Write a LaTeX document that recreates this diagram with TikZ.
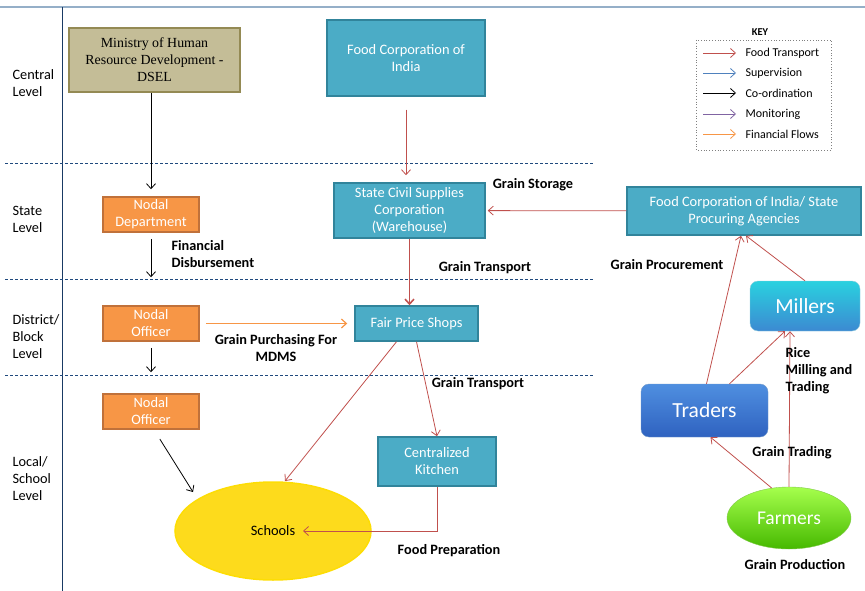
\documentclass[tikz,border=0pt]{standalone}
\usepackage{fontspec}
\setmainfont{Carlito}
\newfontfamily\minfont{Liberation Serif}
\usetikzlibrary{arrows.meta,shapes.geometric,positioning}
\definecolor{foodred}{HTML}{C0504D}
\definecolor{supblue}{HTML}{4F81BD}
\definecolor{monpurple}{HTML}{8064A2}
\definecolor{finorange}{HTML}{F79646}
\definecolor{tealfill}{HTML}{4BACC6}
\definecolor{tealline}{HTML}{31849B}
\definecolor{tanfill}{HTML}{C4BD97}
\definecolor{tanline}{HTML}{948A54}
\definecolor{orangeline}{HTML}{C0713A}
\definecolor{levelline}{HTML}{1F497D}
\definecolor{topline}{HTML}{95AFC8}
\definecolor{traderstop}{HTML}{4F8FE0}
\definecolor{tradersbot}{HTML}{2F62C0}
\tikzset{
  agency/.style={draw=tealline, line width=1.5pt, fill=tealfill, text=white, align=center, inner sep=0pt},
  nodal/.style={draw=orangeline, line width=1.5pt, fill=finorange, text=white, align=center, inner sep=0pt, minimum width=96pt, minimum height=35pt},
  trade/.style={rounded corners=8pt, align=center, inner sep=0pt, text=white, font=\fontsize{21.5}{24}\selectfont},
  flowlabel/.style={font=\bfseries\fontsize{14.3}{17}\selectfont, align=center},
  levellabel/.style={font=\fontsize{14.3}{17}\selectfont, align=left, anchor=west},
  keylabel/.style={anchor=west, font=\fontsize{12}{14}\selectfont},
  flow/.style={-{Straight Barb[length=5pt,width=9pt]}, line width=0.8pt},
  food/.style={flow, draw=foodred},
  coord/.style={flow, draw=black},
  money/.style={flow, draw=finorange, line width=1.2pt}
}
\begin{document}
\begin{tikzpicture}[x=1pt, y=-1pt, font=\fontsize{14.4}{17}\selectfont]
  \useasboundingbox (0,0) rectangle (865,591);

  % levels
  \draw[topline, line width=2.5pt] (0,7) -- (865,7);
  \draw[levelline!80!black, line width=1pt] (62,7) -- (62,591);
  \draw[levelline, dashed, dash pattern=on 3pt off 2pt, line width=0.6pt] (5,163) -- (593,163);
  \draw[levelline, dashed, dash pattern=on 3pt off 2pt, line width=0.6pt] (5,279) -- (593,279);
  \draw[levelline, dashed, dash pattern=on 3pt off 2pt, line width=0.6pt] (5,375) -- (593,375);

  \node[levellabel] at (9,83) (lv-central) {Central\\Level};
  \node[levellabel] at (9,219.5) (lv-state) {State\\Level};
  \node[levellabel] at (9,337) (lv-district) {District/\\Block\\Level};
  \node[levellabel] at (9,479) (lv-local) {Local/\\School\\Level};

  % boxes
  \node[draw=tanline, line width=1.5pt, fill=tanfill, align=center, inner sep=0pt, minimum width=171pt, minimum height=64pt, font=\minfont\fontsize{13.9}{17}\selectfont] at (154.5,60) (ministry) {Ministry of Human\\Resource Development -\\DSEL};
  \node[agency, minimum width=158pt, minimum height=76pt] at (406,58) (fci) {Food Corporation of\\India};
  \node[nodal] at (151,214.5) (ndept) {Nodal\\Department};
  \node[nodal] at (151,323.5) (nofficer) {Nodal\\Officer};
  \node[nodal] at (151,411.5) (nofficer-local) {Nodal\\Officer};
  \node[agency, minimum width=151pt, minimum height=55pt] at (409.5,210.5) (warehouse) {State Civil Supplies\\Corporation\\(Warehouse)};
  \node[agency, minimum width=123pt, minimum height=35pt] at (416.5,323.5) (fps) {Fair Price Shops};
  \node[agency, minimum width=118pt, minimum height=49pt] at (437,461.5) (kitchen) {Centralized\\Kitchen};
  \node[ellipse, draw=yellow!80!orange, line width=1.5pt, fill=yellow!75!orange!90, minimum width=196pt, minimum height=98pt, inner sep=0pt] at (273,531) (schools) {Schools};
  \node[agency, minimum width=234pt, minimum height=48pt] at (744,211) (procure) {Food Corporation of India/ State\\Procuring Agencies};
  \node[trade, top color=cyan!45!tealfill, bottom color=tealfill!80!blue, draw=tealfill!60, minimum width=110pt, minimum height=50pt] at (805,306) (millers) {Millers};
  \node[trade, top color=traderstop, bottom color=tradersbot, draw=supblue!80, minimum width=127pt, minimum height=53pt] at (704.5,410.5) (traders) {Traders};
  \node[ellipse, top color=green!50!yellow!70!white, bottom color=green!45!olive, draw=green!40!olive!70, inner sep=0pt, text=white, minimum width=124pt, minimum height=62pt, font=\fontsize{19.5}{22}\selectfont] at (789,518) (farmers) {Farmers};

  % key
  \node[font=\bfseries\fontsize{10.5}{12}\selectfont] at (760,32) (key-title) {KEY};
  \draw[gray, dotted, line width=0.8pt] (696,40) rectangle (831,150);
  \node[keylabel] at (742,53) (key-food) {Food Transport};
  \node[keylabel] at (742,73) (key-sup) {Supervision};
  \node[keylabel] at (742,93) (key-coord) {Co-ordination};
  \node[keylabel] at (742,114) (key-mon) {Monitoring};
  \node[keylabel] at (742,134) (key-fin) {Financial Flows};
  \coordinate (key-food-s) at (703,53);
  \coordinate (key-sup-s) at (703,73);
  \coordinate (key-coord-s) at (703,93);
  \coordinate (key-mon-s) at (703,114);
  \coordinate (key-fin-s) at (703,134);
  \draw[flow, foodred] (key-food-s) -- ([xshift=-6pt]key-food.west);
  \draw[flow, supblue] (key-sup-s) -- ([xshift=-6pt]key-sup.west);
  \draw[flow, black] (key-coord-s) -- ([xshift=-6pt]key-coord.west);
  \draw[flow, monpurple] (key-mon-s) -- ([xshift=-6pt]key-mon.west);
  \draw[flow, finorange] (key-fin-s) -- ([xshift=-6pt]key-fin.west);

  % co-ordination
  \draw[coord, shorten >=7pt] (ministry.south -| ndept.north) -- (ndept.north);
  \draw[coord, shorten <=6pt, shorten >=28pt] (ndept) -- (nofficer);
  \draw[coord, shorten <=6pt, shorten >=21pt] (nofficer) -- (nofficer-local);
  \draw[coord, shorten <=11pt] ([xshift=3pt]nofficer-local.south) -- ([xshift=-80pt,yshift=39pt]schools.center);

  % financial
  \draw[money, shorten <=6pt, shorten >=7pt] (nofficer) -- (fps);

  % food transport
  \draw[food, shorten <=13pt, shorten >=7pt] (fci.south |- fci.south) -- (warehouse.north -| fci.south);
  \draw[food, shorten >=2pt] (procure) -- (warehouse);
  \draw[food, line width=1.6pt] (warehouse) -- (fps.north -| warehouse.south);
  \draw[food] ([xshift=-20pt]fps.south) -- ([xshift=12pt,yshift=50pt]schools.center);
  \draw[food] ([xshift=0pt]fps.south) -- (kitchen.north);
  \draw[food] (kitchen.south) |- ([xshift=30pt]schools.center);
  \draw[food] ([xshift=2pt]traders.north) -- ([xshift=-3pt]procure.south);
  \draw[food] ([xshift=25pt]traders.north) -- ([xshift=-20pt]millers.south);
  \draw[food] (millers.north) -- ([xshift=2pt]procure.south);
  \draw[food] (farmers.120) -- ([xshift=6pt]traders.south);
  \draw[food] (farmers.north) -- ([xshift=-15pt]millers.south);

  % flow labels
  \node[flowlabel] at (533,185) (lbl-storage) {Grain Storage};
  \node[flowlabel, align=left, anchor=west] at (168,254) (lbl-disburse) {Financial\\Disbursement};
  \node[flowlabel] at (485,268) (lbl-transport) {Grain Transport};
  \node[flowlabel] at (667,265) (lbl-procure) {Grain Procurement};
  \node[flowlabel] at (276,348) (lbl-purchase) {Grain Purchasing For\\MDMS};
  \node[flowlabel] at (478,384) (lbl-transport2) {Grain Transport};
  \node[flowlabel, align=left, anchor=west] at (782,371) (lbl-milling) {Rice\\Milling and\\Trading};
  \node[flowlabel] at (792,453) (lbl-trading) {Grain Trading};
  \node[flowlabel] at (449,551) (lbl-prep) {Food Preparation};
  \node[flowlabel] at (795,565) (lbl-production) {Grain Production};
\end{tikzpicture}
\end{document}
